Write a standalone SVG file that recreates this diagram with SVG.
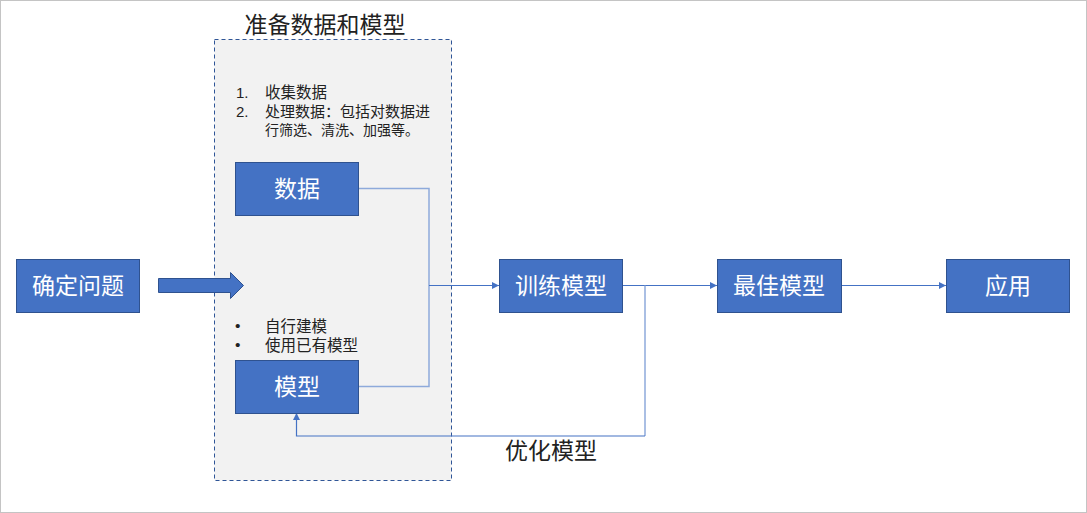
<svg xmlns="http://www.w3.org/2000/svg" width="1087" height="513" viewBox="0 0 1087 513">
<style>
.box{fill:#4472c4;stroke:#2f528f;stroke-width:1}
.bt{fill:#fff;font-family:"Liberation Sans","Noto Sans CJK SC",sans-serif;font-size:23px;text-anchor:middle;dominant-baseline:central}
.t{fill:#222;font-family:"Liberation Sans","Noto Sans CJK SC",sans-serif}
.s{font-size:15.5px}
.c{fill:none;stroke:#4472c4;stroke-width:1.2}
.cl{fill:none;stroke:#8eaadb;stroke-width:1.5}
</style>
<defs>
<marker id="ah" viewBox="0 0 10 10" refX="10" refY="5" markerWidth="7" markerHeight="7" markerUnits="userSpaceOnUse" orient="auto"><path d="M0,0 L10,5 L0,10 Z" fill="#4472c4"/></marker>
</defs>
<rect x="0.5" y="0.5" width="1086" height="512" fill="#fff" stroke="#c4c4c4"/>
<g id="container">
<rect x="214.5" y="39.5" width="237" height="441" fill="#f2f2f2" stroke="#2f5597" stroke-dasharray="4,3"/>
<text class="t" x="325" y="33" font-size="23" text-anchor="middle">准备数据和模型</text>
<text class="t" x="236" y="98" font-size="15">1.</text>
<text class="t s" x="265" y="98">收集数据</text>
<text class="t" x="236" y="117" font-size="15">2.</text>
<text class="t" x="265" y="117" font-size="15">处理数据：包括对数据进</text>
<text class="t" x="265" y="135" font-size="14">行筛选、清洗、加强等。</text>
<text class="t s" x="235" y="331">•</text>
<text class="t s" x="265" y="332">自行建模</text>
<text class="t s" x="235" y="350">•</text>
<text class="t s" x="265" y="351">使用已有模型</text>
</g>
<g id="connectors">
<path class="cl" d="M358,188.5 H429 V285 M358,386.5 H429 V285"/>
<path class="c" d="M429,285.5 H499" marker-end="url(#ah)"/>
<path class="c" d="M622,285.5 H717" marker-end="url(#ah)"/>
<path class="cl" d="M645,285.5 V436"/>
<path class="c" d="M645,436 H296.5 V413" marker-end="url(#ah)"/>
<path class="c" d="M841,285.5 H946" marker-end="url(#ah)"/>
<text class="t" x="551" y="459" font-size="23" text-anchor="middle">优化模型</text>
</g>
<g id="arrow">
<path d="M158.5,278.5 H230.5 V272.5 L243.5,285.5 L230.5,298.5 V292.5 H158.5 Z" fill="#4472c4" stroke="#2f528f"/>
</g>
<g id="n1"><rect class="box" x="16.5" y="259.5" width="123" height="53"/><text class="bt" x="78" y="286">确定问题</text></g>
<g id="n2"><rect class="box" x="235.5" y="162.5" width="123" height="53"/><text class="bt" x="297" y="189">数据</text></g>
<g id="n3"><rect class="box" x="235.5" y="360.5" width="123" height="53"/><text class="bt" x="297" y="387">模型</text></g>
<g id="n4"><rect class="box" x="499.5" y="259.5" width="123" height="53"/><text class="bt" x="561" y="286">训练模型</text></g>
<g id="n5"><rect class="box" x="717.5" y="259.5" width="124" height="53"/><text class="bt" x="779" y="286">最佳模型</text></g>
<g id="n6"><rect class="box" x="946.5" y="259.5" width="123" height="53"/><text class="bt" x="1008" y="286">应用</text></g>
</svg>
